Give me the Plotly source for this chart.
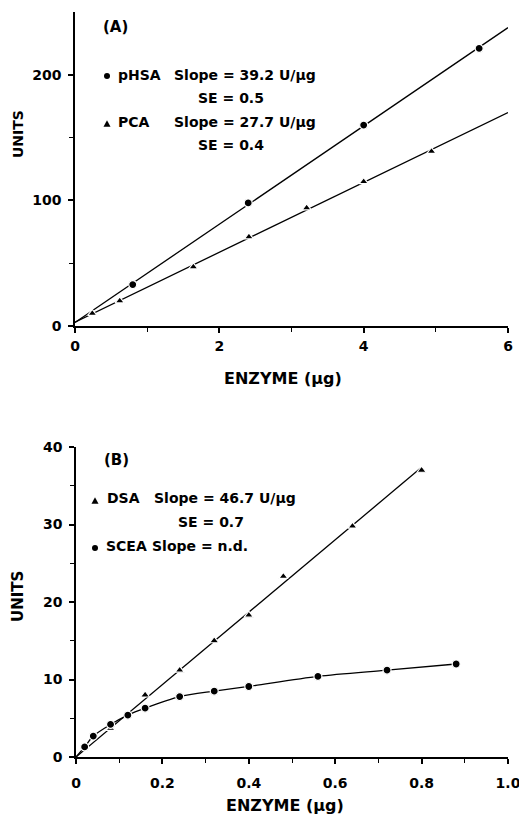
import numpy as np
import plotly.graph_objects as go

# ---------------- data ----------------
# Panel A
phsa_x = [0.8, 2.4, 4.0, 5.6]
phsa_y = [33, 98, 160, 221]
pca_x = [0.24, 0.62, 1.64, 2.41, 3.21, 4.0, 4.94]
pca_y = [10, 20, 47, 71, 94, 115, 139]
a_line_x = [0, 6]

# Panel B
dsa_x = [0.08, 0.16, 0.24, 0.32, 0.40, 0.48, 0.64, 0.80]
dsa_y = [3.7, 8.0, 11.2, 15.0, 18.3, 23.3, 29.8, 37.0]
scea_x = [0.02, 0.04, 0.08, 0.12, 0.16, 0.24, 0.32, 0.40, 0.56, 0.72, 0.88]
scea_y = [1.3, 2.7, 4.2, 5.4, 6.3, 7.8, 8.5, 9.1, 10.4, 11.2, 12.0]

a_xticks = [0, 2, 4, 6]
a_xminor = [1, 3, 5]
a_yticks = [0, 100, 200]
a_yminor = [50, 150]
b_xticks = [0, 0.2, 0.4, 0.6, 0.8, 1.0]
b_xticktext = ["0", "0.2", "0.4", "0.6", "0.8", "1.0"]
b_xminor = [0.1, 0.3, 0.5, 0.7, 0.9]
b_yticks = [0, 10, 20, 30, 40]
b_yminor = [5, 15, 25, 35]

# ---------------- figure ----------------
W, H = 519, 816
FONT = "DejaVu Sans, Arial, sans-serif"

def px(x):
    return x / W

def py(y):
    return 1 - y / H

fig = go.Figure()

# fitted lines panel A
for xs, ys in [(phsa_x, phsa_y), (pca_x, pca_y)]:
    k, b = np.polyfit(xs, ys, 1)
    lx = np.array(a_line_x, dtype=float)
    fig.add_trace(go.Scatter(x=lx, y=k * lx + b, mode="lines",
                             line=dict(color="black", width=1.3),
                             xaxis="x", yaxis="y", showlegend=False, hoverinfo="skip"))

mk = dict(color="black", line=dict(color="white", width=1.2))
fig.add_trace(go.Scatter(x=phsa_x, y=phsa_y, mode="markers",
                         marker=dict(symbol="circle", size=8, **mk),
                         xaxis="x", yaxis="y", showlegend=False))
fig.add_trace(go.Scatter(x=pca_x, y=pca_y, mode="markers",
                         marker=dict(symbol="triangle-up", size=8, **mk),
                         xaxis="x", yaxis="y", showlegend=False))

# panel B: DSA straight line through origin
dx = np.array(dsa_x)
dy = np.array(dsa_y)
kd = float((dx * dy).sum() / (dx * dx).sum())
lxd = np.array([0.0, max(dsa_x)])
fig.add_trace(go.Scatter(x=lxd, y=kd * lxd, mode="lines",
                         line=dict(color="black", width=1.3),
                         xaxis="x2", yaxis="y2", showlegend=False, hoverinfo="skip"))
# SCEA smooth curve from origin
fig.add_trace(go.Scatter(x=[0] + scea_x, y=[0] + scea_y, mode="lines",
                         line=dict(color="black", width=1.3, shape="spline", smoothing=0.8),
                         xaxis="x2", yaxis="y2", showlegend=False, hoverinfo="skip"))
fig.add_trace(go.Scatter(x=dsa_x, y=dsa_y, mode="markers",
                         marker=dict(symbol="triangle-up", size=8, **mk),
                         xaxis="x2", yaxis="y2", showlegend=False))
fig.add_trace(go.Scatter(x=scea_x, y=scea_y, mode="markers",
                         marker=dict(symbol="circle", size=8, **mk),
                         xaxis="x2", yaxis="y2", showlegend=False))

axis_common = dict(showline=True, linecolor="black", linewidth=1.5,
                   ticks="outside", ticklen=5, tickwidth=1.5, tickcolor="black",
                   showgrid=False, zeroline=False, mirror=False, automargin=False,
                   ticklabeloverflow="allow",
                   tickfont=dict(family=FONT, size=14, color="black", weight="bold"))

def minor(vals):
    return dict(tickmode="array", tickvals=vals, ticks="outside", ticklen=4,
                tickwidth=1.2, tickcolor="black", showgrid=False)

fig.update_layout(
    width=W, height=H, autosize=False,
    margin=dict(l=0, r=0, t=0, b=0, pad=0),
    paper_bgcolor="white", plot_bgcolor="white",
    xaxis=dict(domain=[px(75), px(508)], range=[0, 6], anchor="y",
               tickmode="array", tickvals=a_xticks, minor=minor(a_xminor),
               ticklabelstandoff=1, **axis_common),
    yaxis=dict(domain=[py(326), py(12)], range=[0, 250], anchor="x",
               tickmode="array", tickvals=a_yticks, minor=minor(a_yminor),
               ticklabelstandoff=4, **axis_common),
    xaxis2=dict(domain=[px(76), px(508)], range=[0, 1.0], anchor="y2",
                tickmode="array", tickvals=b_xticks, ticktext=b_xticktext,
                minor=minor(b_xminor), ticklabelstandoff=7, **axis_common),
    yaxis2=dict(domain=[py(757), py(447)], range=[0, 40], anchor="x2",
                tickmode="array", tickvals=b_yticks, minor=minor(b_yminor),
                ticklabelstandoff=4, **axis_common),
)

def txt(s, x, y, size=14, xanchor="left", angle=0):
    fig.add_annotation(text="<b>" + s + "</b>", x=px(x), y=py(y), xref="paper", yref="paper",
                       xanchor=xanchor, yanchor="middle", showarrow=False, textangle=angle,
                       font=dict(family=FONT, size=size, color="black"))

def dot(x, y, r=3):
    fig.add_shape(type="circle", xref="paper", yref="paper", xsizemode="pixel", ysizemode="pixel",
                  xanchor=px(x), yanchor=py(y), x0=-r, x1=r, y0=-r, y1=r,
                  fillcolor="black", line=dict(width=0))

def tri(x, y, r=3.5):
    fig.add_shape(type="path", xref="paper", yref="paper", xsizemode="pixel", ysizemode="pixel",
                  xanchor=px(x), yanchor=py(y),
                  path=f"M {-r} {-r*0.8} L {r} {-r*0.8} L 0 {r*1.1} Z",
                  fillcolor="black", line=dict(width=0))

# Panel A texts
txt("(A)", 101, 27, size=15)
dot(107, 76)
txt("pHSA", 116, 75)
txt("Slope = 39.2 U/µg", 172, 75)
txt("SE = 0.5", 196, 98)
tri(107, 124)
txt("PCA", 116, 122)
txt("Slope = 27.7 U/µg", 172, 122)
txt("SE = 0.4", 196, 145)
txt("UNITS", 18, 134, size=14, xanchor="center", angle=-90)
txt("ENZYME (µg)", 283, 378, size=16, xanchor="center")

# Panel B texts
txt("(B)", 102, 460, size=15)
tri(95, 501)
txt("DSA", 105, 498)
txt("Slope = 46.7 U/µg", 152, 498)
txt("SE = 0.7", 176, 522)
dot(95, 548)
txt("SCEA", 104, 546)
txt("Slope = n.d.", 150, 546)
txt("UNITS", 18, 596, size=15, xanchor="center", angle=-90)
txt("ENZYME (µg)", 285, 805, size=16, xanchor="center")

fig.write_html("out.html")
